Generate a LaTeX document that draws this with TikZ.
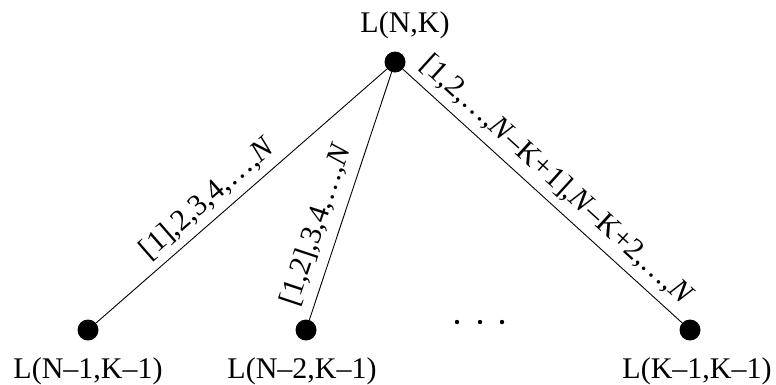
\documentclass[tikz,border=0pt]{standalone}
\usepackage{fontspec}
\setmainfont{Liberation Serif}
\tikzset{
  dot/.style={circle, fill=black, draw=none, minimum size=21pt, inner sep=0pt},
  smalldot/.style={circle, fill=black, draw=none, minimum size=4.4pt, inner sep=0pt},
  lbl/.style={anchor=base, inner sep=0pt, font=\fontsize{30}{36}\selectfont},
  elbl/.style={sloped, anchor=south, font=\fontsize{30}{36}\selectfont},
  edge/.style={draw=black, line width=0.9pt}
}
\begin{document}
\begin{tikzpicture}[x=1pt, y=-1pt]
\useasboundingbox (0,0) rectangle (776,384);
\node[dot] (root) at (395,62) {};
\node[dot] (c1) at (88,330) {};
\node[dot] (c2) at (306,330) {};
\node[dot] (c3) at (690,330) {};
\node[lbl] (lroot) at (405,32) {L(N,K)};
\node[lbl] (l1) at (88,378) {L(N–1,K–1)};
\node[lbl] (l2) at (302,378) {L(N–2,K–1)};
\node[lbl] (l3) at (697,378) {L(K–1,K–1)};
\node[smalldot] (e1) at (457,322) {};
\node[smalldot] (e2) at (480,322) {};
\node[smalldot] (e3) at (502,322) {};
\draw[edge] (c1) -- (root) node[elbl, pos=0.43, inner sep=7pt] {[1],2,3,4,…,\textit{N}};
\draw[edge] (c2) -- (root) node[elbl, pos=0.355, inner sep=10pt] {[1,2],3,4,…,\textit{N}};
\draw[edge] (root) -- (c3) node[elbl, pos=0.5, inner sep=8pt] {[1,2,…,\textit{N}–K+1],\textit{N}–K+2,…,\textit{N}};
\end{tikzpicture}
\end{document}
